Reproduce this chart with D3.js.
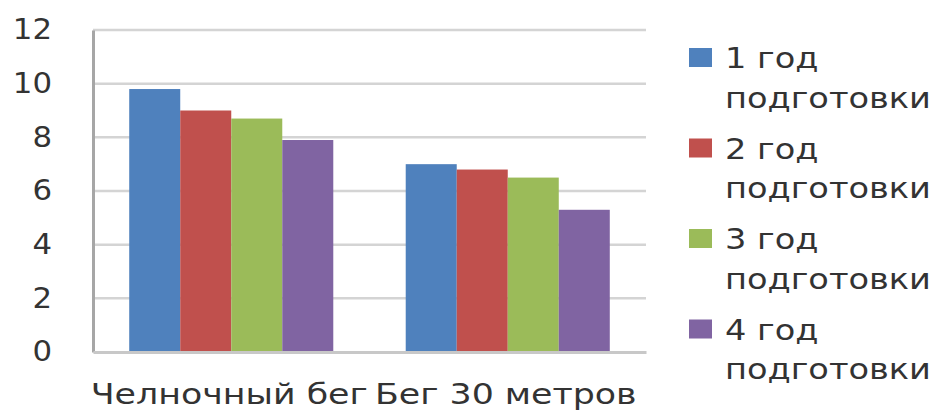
<!DOCTYPE html>
<html>
<head>
<meta charset="utf-8">
<script src="https://cdn.jsdelivr.net/npm/d3@7"></script>
<style>
  body { margin: 0; background: #fff; }
  svg text { font-family: "DejaVu Sans", Verdana, sans-serif; fill: #333; }
</style>
</head>
<body>
<figure id="chart" style="margin:0"></figure>
<script>
let categories = ["Челночный бег", "Бег 30 метров"];
let seriesNames = ["1 год подготовки", "2 год подготовки", "3 год подготовки", "4 год подготовки"];
let seriesColors = ["#4F81BD", "#C0504D", "#9BBB59", "#8064A2"];
let year1 = [9.8, 7.0];
let year2 = [9.0, 6.8];
let year3 = [8.7, 6.5];
let year4 = [7.9, 5.3];
let yTicks = [0, 2, 4, 6, 8, 10, 12];

let series = [year1, year2, year3, year4];

let dimensions = {
    width: 933,
    height: 410,
    margin: { top: 30, right: 287, bottom: 58, left: 93 },
};
dimensions.boundedWidth = dimensions.width - dimensions.margin.left - dimensions.margin.right;
dimensions.boundedHeight = dimensions.height - dimensions.margin.top - dimensions.margin.bottom;

var svg = d3.select("figure#chart")
    .append("svg")
    .attr("width", dimensions.width)
    .attr("height", dimensions.height);

var g = svg.append("g")
    .attr("transform", `translate(${dimensions.margin.left}, ${dimensions.margin.top})`);

var x0 = d3.scaleBand()
    .domain(categories)
    .range([0, dimensions.boundedWidth]);

var x1 = d3.scaleBand()
    .domain(d3.range(series.length))
    .range([0, x0.bandwidth()])
    .paddingOuter(0.71);

var yScale = d3.scaleLinear()
    .domain([0, 12])
    .range([dimensions.boundedHeight, 0]);

// text in the picture is wider than the font, stretch it
var stretch = (sel, sx, x) => sel.attr("x", x / sx).attr("transform", `scale(${sx}, 1)`);

// gridlines
g.append("g")
    .selectAll("line")
    .data(yTicks.filter(d => d > 0))
    .enter()
    .append("line")
    .attr("x1", 0)
    .attr("x2", dimensions.boundedWidth)
    .attr("y1", d => yScale(d))
    .attr("y2", d => yScale(d))
    .attr("stroke", "#d4d4d4")
    .attr("stroke-width", 2.5);

// bars
var table = [];
categories.forEach((c, ci) => {
    series.forEach((s, si) => table.push({ cat: c, s: si, v: s[ci] }));
});

g.selectAll("rect.bar")
    .data(table)
    .enter()
    .append("rect")
    .attr("class", "bar")
    .attr("x", d => x0(d.cat) + x1(d.s))
    .attr("y", d => yScale(d.v))
    .attr("width", x1.bandwidth())
    .attr("height", d => dimensions.boundedHeight - yScale(d.v))
    .attr("fill", d => seriesColors[d.s]);

// y axis
var yAxis = g.append("g")
    .call(d3.axisLeft(yScale).tickValues(yTicks).tickSize(0).tickPadding(41));
yAxis.select(".domain").attr("stroke", "#a6a6a6").attr("stroke-width", 3);
yAxis.selectAll("text")
    .attr("font-size", 28)
    .attr("font-family", "DejaVu Sans")
    .attr("fill", "#333")
    .call(stretch, 1.1, -41);

// x axis
var xAxis = g.append("g")
    .attr("transform", `translate(0, ${dimensions.boundedHeight})`)
    .call(d3.axisBottom(x0).tickSize(0));
xAxis.select(".domain").attr("stroke", "#c8c8c8").attr("stroke-width", 3);
xAxis.selectAll("text")
    .attr("font-size", 29)
    .attr("font-family", "DejaVu Sans")
    .attr("fill", "#333")
    .attr("y", 52)
    .attr("dy", 0)
    .call(stretch, 1.2, -2);

// legend
var legend = svg.append("g")
    .attr("transform", "translate(689, 48)");

var items = legend.selectAll("g")
    .data(seriesNames)
    .enter()
    .append("g")
    .attr("transform", (d, i) => `translate(0, ${i * 90.5})`);

items.append("rect")
    .attr("width", 23)
    .attr("height", 19)
    .attr("fill", (d, i) => seriesColors[i]);

items.append("text")
    .attr("y", 20)
    .attr("font-size", 28)
    .text(d => d.split(" ").slice(0, 2).join(" "))
    .call(stretch, 1.2, 36);

items.append("text")
    .attr("y", 60)
    .attr("font-size", 28)
    .text(d => d.split(" ")[2])
    .call(stretch, 1.2, 36);
</script>
</body>
</html>
